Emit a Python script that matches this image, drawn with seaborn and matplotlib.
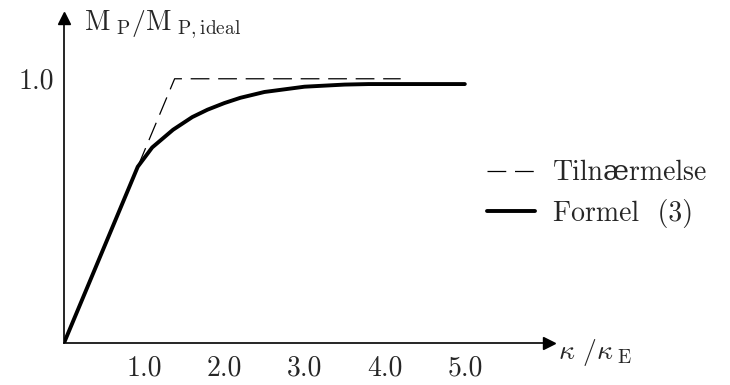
import numpy as np
import pandas as pd
import matplotlib
matplotlib.use("Agg")
import matplotlib.pyplot as plt
import seaborn as sns

# approximation (dashed) and formula (3) curve
approx_x = [0.0, 1.38, 4.2]
approx_y = [0.0, 1.0, 1.0]

formel_x = [0.0, 0.92, 1.1, 1.36, 1.6, 1.79, 2.0, 2.2, 2.5, 3.0, 3.5, 3.8, 5.0]
formel_y = [0.0, 0.667, 0.74, 0.807, 0.855, 0.883, 0.908, 0.928, 0.95, 0.97, 0.978, 0.98, 0.98]

xticks = [1.0, 2.0, 3.0, 4.0, 5.0]
xtick_labels = ["1.0", "2.0", "3.0", "4.0", "5.0"]
yticks = [1.0]
ytick_labels = ["1.0"]

sns.set_style("white")
plt.rcParams["font.family"] = ["cmr10", "DejaVu Serif"]
plt.rcParams["mathtext.fontset"] = "cm"

fs = 20

fig = plt.figure(figsize=(7.3, 3.85), dpi=100)
ax = fig.add_axes([64 / 730, 42 / 385, 485 / 730, 325 / 385])

df_a = pd.DataFrame({"x": approx_x, "y": approx_y})
df_f = pd.DataFrame({"x": formel_x, "y": formel_y})

sns.lineplot(data=df_a, x="x", y="y", ax=ax, color="black", lw=0.9,
             linestyle=(0, (15, 7)), sort=False, label="Tilnærmelse")
sns.lineplot(data=df_f, x="x", y="y", ax=ax, color="black", lw=2.8,
             sort=False, label="Formel  (3)")

ax.set_xlim(0, 6.05)
ax.set_ylim(0, 1.23)

# axes as arrows
for s in ["top", "right"]:
    ax.spines[s].set_visible(False)
for s in ["left", "bottom"]:
    ax.spines[s].set_linewidth(1.2)
    ax.spines[s].set_color("black")
ax.plot(1, 0, ">k", ms=8, transform=ax.transAxes, clip_on=False)
ax.plot(0, 1, "^k", ms=8, transform=ax.transAxes, clip_on=False)

ax.set_xticks(xticks)
ax.set_xticklabels(xtick_labels)
ax.set_yticks(yticks)
ax.set_yticklabels(ytick_labels)
ax.tick_params(axis="both", direction="inout", length=9, width=0.8,
               color="#333333", labelsize=fs, pad=4)
ax.tick_params(axis="y", pad=3)

ax.set_xlabel("")
ax.set_ylabel("")
fig.text(84 / 730, 1 - 30 / 385, r"$\mathrm{M}_{\ \mathrm{P}}/\mathrm{M}_{\ \mathrm{P,ideal}}$",
         fontsize=fs, ha="left", va="baseline")
fig.text(558 / 730, 1 - 352 / 385, r"$\kappa\ /\kappa_{\ \mathrm{E}}$",
         fontsize=fs, ha="left", va="center")

ax.legend(loc="upper left", bbox_to_anchor=(487 / 730, 1 - 160 / 385),
          bbox_transform=fig.transFigure, frameon=False, fontsize=fs,
          handlelength=1.72, handletextpad=0.65, labelspacing=0.45,
          borderpad=0, borderaxespad=0)

fig.savefig("out.png", dpi=100)
